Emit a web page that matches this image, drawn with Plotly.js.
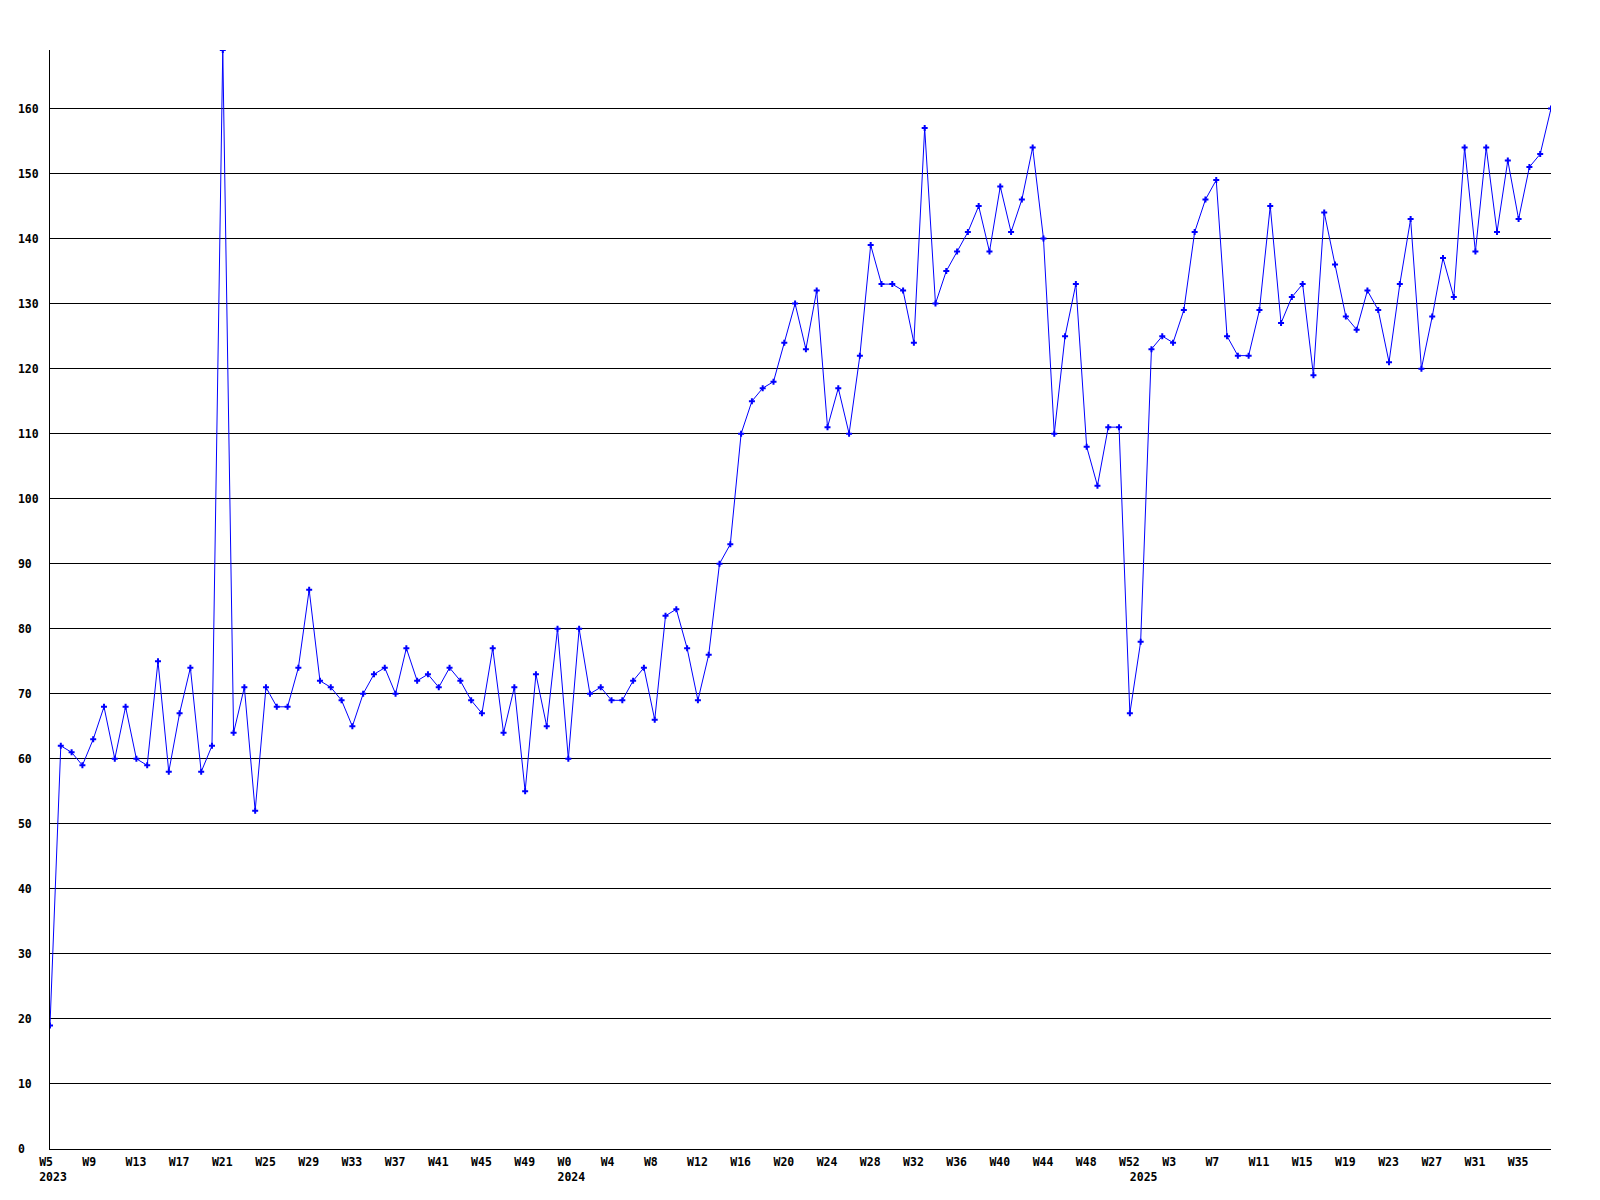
<!DOCTYPE html>
<html>
<head>
<meta charset="utf-8">
<script src="https://cdn.plot.ly/plotly-3.0.1.min.js"></script>
<style>
  html, body { margin: 0; padding: 0; background: #ffffff; }
  #chart { width: 1600px; height: 1200px; }
</style>
</head>
<body>
<div id="chart"></div>
<script>
// Week categories (one per point)
const weeks2023 = ["W5","W6","W7","W8","W9","W10","W11","W12","W13","W14","W15","W16","W17","W18","W19","W20",
  "W21","W22","W23","W24","W25","W26","W27","W28","W29","W30","W31","W32","W33","W34","W35","W36",
  "W37","W38","W39","W40","W41","W42","W43","W44","W45","W46","W47","W48","W49","W50","W51","W52"];
const weeks2024 = ["W0","W1","W2","W3","W4","W5","W6","W7","W8","W9","W10","W11","W12","W13","W14","W15",
  "W16","W17","W18","W19","W20","W21","W22","W23","W24","W25","W26","W27","W28","W29","W30","W31",
  "W32","W33","W34","W35","W36","W37","W38","W39","W40","W41","W42","W43","W44","W45","W46","W47",
  "W48","W49","W50","W51","W52"];
const weeks2025 = ["W0","W1","W2","W3","W4","W5","W6","W7","W8","W9","W10","W11","W12","W13","W14","W15",
  "W16","W17","W18","W19","W20","W21","W22","W23","W24","W25","W26","W27","W28","W29","W30","W31",
  "W32","W33","W34","W35","W36","W37","W38"];
const years = [2023, 2024, 2025];

// Series values
const values2023 = [19,62,61,59,63,68,60,68,60,59,75,58,67,74,58,62,
  169,64,71,52,71,68,68,74,86,72,71,69,65,70,73,74,
  70,77,72,73,71,74,72,69,67,77,64,71,55,73,65,80];
const values2024 = [60,80,70,71,69,69,72,74,66,82,83,77,69,76,90,93,
  110,115,117,118,124,130,123,132,111,117,110,122,139,133,133,132,
  124,157,130,135,138,141,145,138,148,141,146,154,140,110,125,133,
  108,102,111,111,67];
const values2025 = [78,123,125,124,129,141,146,149,125,122,122,129,145,127,131,133,
  119,144,136,128,126,132,129,121,133,143,120,128,137,131,154,138,
  154,141,152,143,151,153,160];

// Y tick labels
const yTickValues = [0,10,20,30,40,50,60,70,80,90,100,110,120,130,140,150,160];

const weekSets = [weeks2023, weeks2024, weeks2025];
const valueSets = [values2023, values2024, values2025];

const cats = [], vals = [], tickvals = [], ticktext = [];
const pad = (s, n) => s + "\u00a0".repeat(Math.max(0, n - s.length));
let idx = 0;
weekSets.forEach((ws, yi) => {
  ws.forEach((w, wi) => {
    const c = years[yi] + " " + w;
    cats.push(c);
    vals.push(valueSets[yi][wi]);
    const weekTick = idx % 4 === 0;
    const yearStart = wi === 0;
    if (weekTick || yearStart) {
      tickvals.push(c);
      const line1 = weekTick ? pad(w, 4) : pad("", 4);
      ticktext.push(yearStart ? line1 + "<br>" + years[yi] : line1);
    }
    idx++;
  });
});

const trace = {
  type: "scatter",
  mode: "lines+markers",
  x: cats,
  y: vals,
  line: { color: "#0000ff", width: 1 },
  marker: { symbol: "cross", size: 5, color: "#0000ff", line: { width: 0 } },
  hoverinfo: "x+y"
};

const font = { family: "DejaVu Sans Mono", size: 11.5, color: "#000000", weight: "bold" };

const layout = {
  width: 1600,
  height: 1200,
  margin: { l: 50, r: 49, t: 50, b: 51, pad: 0 },
  paper_bgcolor: "#ffffff",
  plot_bgcolor: "#ffffff",
  showlegend: false,
  font: font,
  xaxis: {
    type: "category",
    range: [0, cats.length - 1],
    tickmode: "array",
    tickvals: tickvals,
    ticktext: ticktext,
    tickangle: 0,
    ticks: "",
    showgrid: false,
    zeroline: false,
    showline: true,
    linecolor: "#000000",
    linewidth: 1,
    ticklabelshift: 3,
    ticklabelstandoff: 2,
    tickfont: font
  },
  yaxis: {
    range: [0, 169],
    tickmode: "array",
    tickvals: yTickValues,
    ticktext: yTickValues.map(v => pad(String(v), 3)),
    ticks: "",
    showgrid: true,
    gridcolor: "#000000",
    gridwidth: 1,
    zeroline: false,
    showline: true,
    linecolor: "#000000",
    linewidth: 1,
    ticklabelstandoff: 8,
    tickfont: font
  }
};

Plotly.newPlot("chart", [trace], layout, { displayModeBar: false, staticPlot: true });
</script>
</body>
</html>
